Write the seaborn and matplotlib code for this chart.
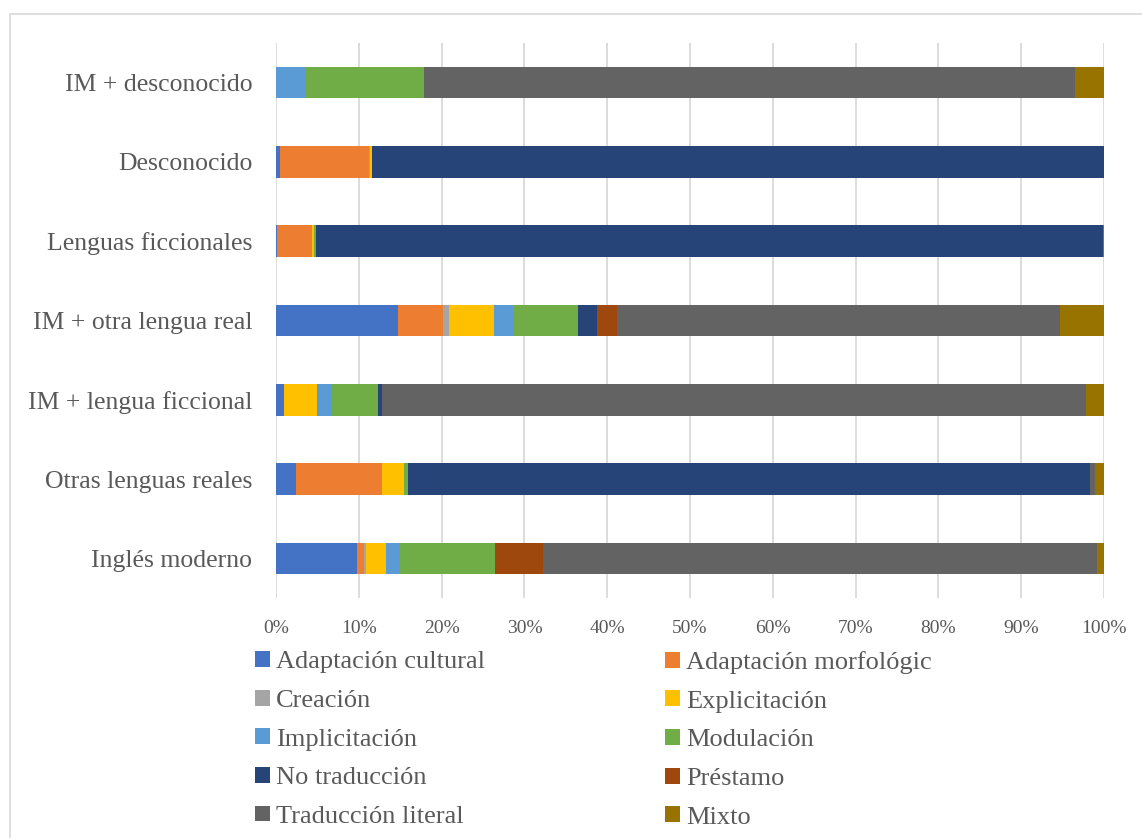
import numpy as np
import pandas as pd
import matplotlib
matplotlib.use('Agg')
import matplotlib.pyplot as plt
from matplotlib.patches import Patch, Rectangle
import seaborn as sns

# categories, top to bottom as in the chart
categorias = ['IM + desconocido', 'Desconocido', 'Lenguas ficcionales',
              'IM + otra lengua real', 'IM + lengua ficcional',
              'Otras lenguas reales', 'Inglés moderno']

# share (%) of each technique per category
adaptacion_cultural = [0.0, 0.5, 0.12, 14.73, 0.97, 2.42, 9.78]
adaptacion_morfologica = [0.0, 10.75, 4.27, 5.47, 0.0, 10.43, 0.89]
creacion = [0.0, 0.1, 0.0, 0.72, 0.0, 0.0, 0.2]
explicitacion = [0.0, 0.3, 0.25, 5.43, 3.99, 2.66, 2.4]
implicitacion = [3.54, 0.0, 0.0, 2.3, 1.65, 0.0, 1.73]
modulacion = [14.3, 0.0, 0.25, 7.81, 5.72, 0.4, 11.43]
no_traduccion = [0.0, 88.35, 95.0, 2.33, 0.48, 82.4, 0.0]
prestamo = [0.0, 0.0, 0.0, 2.33, 0.0, 0.0, 5.84]
traduccion_literal = [78.7, 0.0, 0.0, 53.5, 85.07, 0.6, 66.9]
mixto = [3.47, 0.0, 0.1, 5.31, 2.13, 1.09, 0.81]

tecnicas = ['Adaptación cultural', 'Adaptación morfológic', 'Creación',
            'Explicitación', 'Implicitación', 'Modulación', 'No traducción',
            'Préstamo', 'Traducción literal', 'Mixto']
colores = ['#4472C4', '#ED7D31', '#A5A5A5', '#FFC000', '#5B9BD5',
           '#70AD47', '#264478', '#9E480E', '#636363', '#997300']

df = pd.DataFrame(
    np.array([adaptacion_cultural, adaptacion_morfologica, creacion,
              explicitacion, implicitacion, modulacion, no_traduccion,
              prestamo, traduccion_literal, mixto]).T,
    index=categorias, columns=tecnicas)
df = df.div(df.sum(axis=1), axis=0) * 100  # 100% stacked
acum = df.cumsum(axis=1)

sns.set_style('white')
plt.rcParams['font.family'] = ['Liberation Serif', 'DejaVu Serif']
gris = '#595959'

fig = plt.figure(figsize=(11.42, 8.38), dpi=100)
ax = fig.add_axes([276 / 1142, 1 - 598 / 838, 828 / 1142, 555 / 838])

# draw longest cumulative first so shorter ones sit on top
for tec, col in reversed(list(zip(tecnicas, colores))):
    sns.barplot(x=acum[tec].values, y=categorias, orient='h', color=col,
                saturation=1, width=0.4, linewidth=0, ax=ax)

ax.set_xlim(0, 100)
ax.set_ylim(6.5, -0.5)
ax.set_xticks(np.arange(0, 101, 10))
ax.set_xticklabels([f'{v}%' for v in range(0, 101, 10)])
ax.set_xlabel('')
ax.set_ylabel('')
ax.xaxis.grid(True, color='#D9D9D9', linewidth=1.3)
ax.set_axisbelow(True)
for s in ax.spines.values():
    s.set_visible(False)
ax.tick_params(axis='y', length=0, pad=17, labelsize=18.5, labelcolor=gris)
ax.tick_params(axis='x', length=0, pad=16, labelsize=14, labelcolor=gris)

# outer chart frame
fig.patches.append(Rectangle((10 / 1142, -0.1), 1.2, 1 - 14 / 838 + 0.1,
                             transform=fig.transFigure, fill=False,
                             edgecolor='#D9D9D9', linewidth=1.2))

handles = [Patch(facecolor=c, edgecolor='none') for c in colores]
opts = dict(loc='upper left', frameon=False, fontsize=19, borderpad=0,
            borderaxespad=0, handlelength=0.55, handleheight=0.55,
            handletextpad=0.25, labelspacing=0.62, labelcolor=gris)
leg1 = fig.legend(handles[0::2], tecnicas[0::2],
                  bbox_to_anchor=(255 / 1142, 1 - 651 / 838), **opts)
leg2 = fig.legend(handles[1::2], tecnicas[1::2],
                  bbox_to_anchor=(665 / 1142, 1 - 651 / 838), **opts)

fig.savefig('out.png', dpi=100)
